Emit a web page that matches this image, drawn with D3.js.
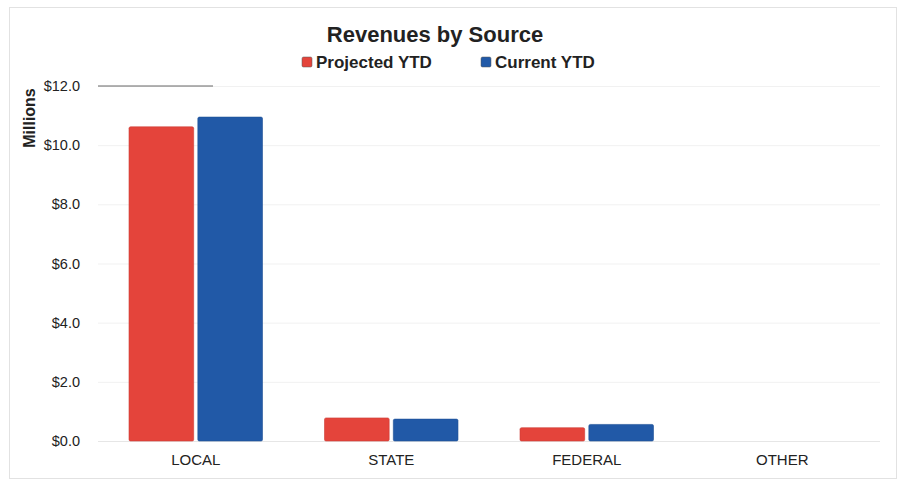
<!DOCTYPE html>
<html>
<head>
<meta charset="utf-8">
<script src="https://cdn.jsdelivr.net/npm/d3@7"></script>
<style>
  html, body { margin: 0; padding: 0; background: #fff; }
  svg { display: block; font-family: "Liberation Sans", Arial, sans-serif; }
</style>
</head>
<body>
<svg id="chart" width="900" height="485"></svg>
<script>
// Revenue categories and year-to-date amounts (millions of dollars)
const categories = ["LOCAL", "STATE", "FEDERAL", "OTHER"];
const seriesNames = ["Projected YTD", "Current YTD"];
const projectedYTD = [10.62, 0.78, 0.45, 0];
const currentYTD = [10.95, 0.74, 0.56, 0];
const yTicks = [0, 2, 4, 6, 8, 10, 12];
const seriesColors = ["#E4443B", "#2159A7"];

const svg = d3.select("#chart");
const margin = { left: 98, right: 20, top: 86, bottom: 44 };
const W = 900, H = 485;

// Chart frame
svg.append("rect")
  .attr("x", 9.5).attr("y", 7.5)
  .attr("width", 887).attr("height", 471)
  .attr("fill", "#fff").attr("stroke", "#e2e2e2");

const x0 = d3.scaleBand()
  .domain(categories)
  .range([margin.left, W - margin.right])
  .paddingInner(0).paddingOuter(0);

const x1 = d3.scaleBand()
  .domain(seriesNames)
  .range([31, x0.bandwidth() - 31])
  .paddingInner(0.06);

const y = d3.scaleLinear()
  .domain([0, 12])
  .range([H - margin.bottom, margin.top]);

// Gridlines and value labels
const yAxis = d3.axisLeft(y)
  .tickValues(yTicks)
  .tickFormat(d => "$" + d3.format(".1f")(d))
  .tickSize(-(W - margin.left - margin.right))
  .tickPadding(18);

const gy = svg.append("g")
  .attr("transform", `translate(${margin.left},0)`)
  .call(yAxis);
gy.select(".domain").remove();
gy.selectAll(".tick line").attr("stroke", "#f1f1f1").attr("stroke-width", 1);
gy.selectAll(".tick text")
  .attr("fill", "#222")
  .attr("font-size", 14.5)
  .attr("font-family", "Liberation Sans, Arial, sans-serif");

// Darker segment along the top gridline
svg.append("line")
  .attr("x1", margin.left).attr("x2", margin.left + 115)
  .attr("y1", y(12)).attr("y2", y(12))
  .attr("stroke", "#666").attr("stroke-width", 1);

// Baseline
svg.append("line")
  .attr("x1", margin.left).attr("x2", W - margin.right)
  .attr("y1", y(0) + 0.5).attr("y2", y(0) + 0.5)
  .attr("stroke", "#e6e6e6");

// Bars
const rows = categories.map((c, i) => ({
  category: c,
  values: [projectedYTD[i], currentYTD[i]]
}));

const groups = svg.append("g").selectAll("g")
  .data(rows).join("g")
  .attr("transform", d => `translate(${x0(d.category)},0)`);

groups.selectAll("rect")
  .data(d => d.values.map((v, j) => ({ name: seriesNames[j], value: v, j })))
  .join("rect")
  .attr("x", d => x1(d.name))
  .attr("width", x1.bandwidth())
  .attr("y", d => y(d.value))
  .attr("height", d => y(0) - y(d.value))
  .attr("rx", 1.5)
  .attr("fill", d => seriesColors[d.j])
  .attr("stroke", d => d3.color(seriesColors[d.j]).darker(0.3))
  .attr("stroke-width", d => d.value > 0 ? 0.6 : 0);

// Category axis
const gx = svg.append("g")
  .attr("transform", `translate(0,${y(0)})`)
  .call(d3.axisBottom(x0).tickSize(0).tickPadding(13));
gx.select(".domain").remove();
gx.selectAll(".tick text")
  .attr("fill", "#222")
  .attr("font-size", 15)
  .attr("font-family", "Liberation Sans, Arial, sans-serif");

// Y axis title
svg.append("text")
  .attr("transform", `translate(35,118) rotate(-90)`)
  .attr("text-anchor", "middle")
  .attr("font-size", 16)
  .attr("font-weight", "bold")
  .attr("fill", "#222")
  .text("Millions");

// Title
svg.append("text")
  .attr("x", 435).attr("y", 42)
  .attr("text-anchor", "middle")
  .attr("font-size", 22)
  .attr("font-weight", "bold")
  .attr("fill", "#222")
  .text("Revenues by Source");

// Legend
const legendX = [302, 481];
const legend = svg.append("g").selectAll("g")
  .data(seriesNames).join("g")
  .attr("transform", (d, i) => `translate(${legendX[i]},57)`);
legend.append("rect")
  .attr("width", 10).attr("height", 10).attr("rx", 1.5)
  .attr("fill", (d, i) => seriesColors[i])
  .attr("stroke", "#555").attr("stroke-width", 0.5);
legend.append("text")
  .attr("x", 14).attr("y", 11)
  .attr("font-size", 17)
  .attr("font-weight", "bold")
  .attr("fill", "#222")
  .text(d => d);
</script>
</body>
</html>
